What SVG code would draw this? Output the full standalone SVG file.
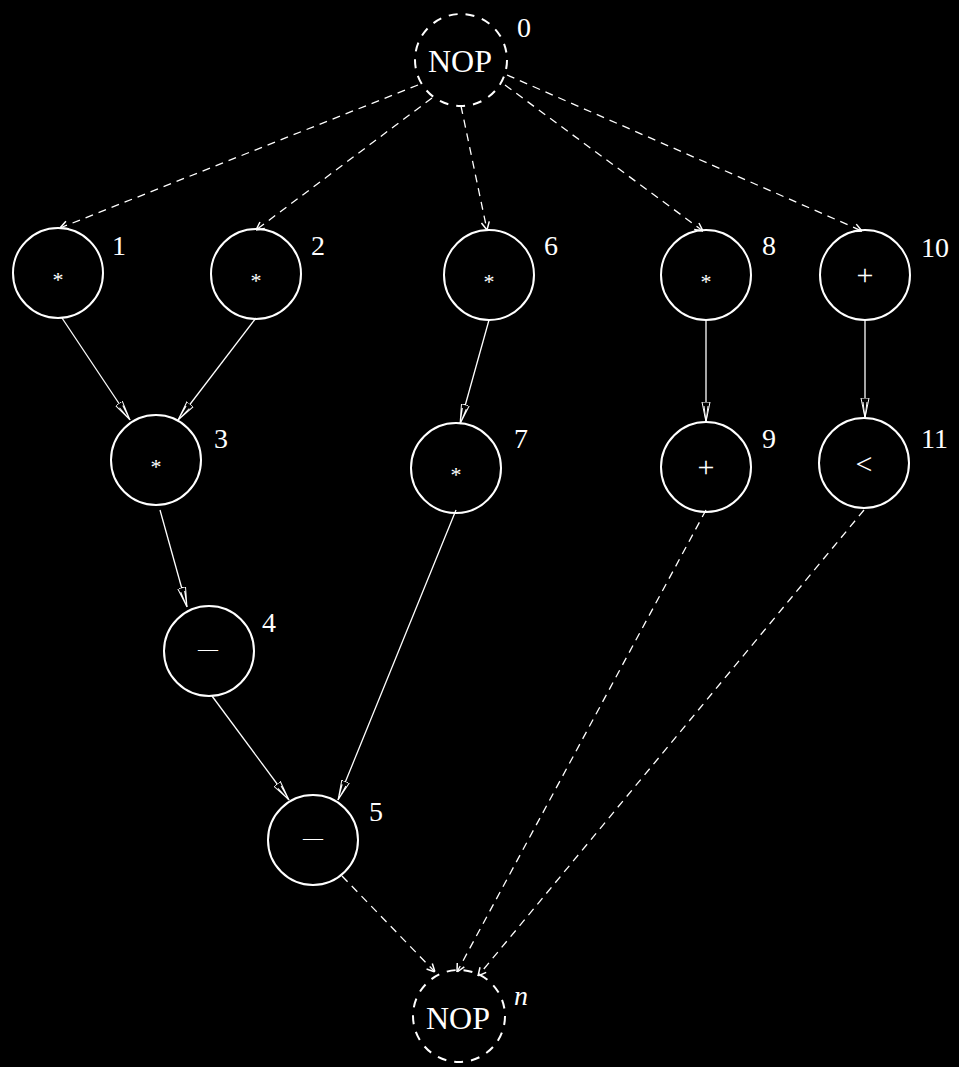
<svg xmlns="http://www.w3.org/2000/svg" width="959" height="1067" viewBox="0 0 959 1067">
<defs>
<marker id="ah" viewBox="0 0 20 10" refX="20" refY="5" markerWidth="20" markerHeight="10" markerUnits="userSpaceOnUse" orient="auto">
<path d="M0,1 L20,5 L0,9 Z M4,3 L20,5 L4,7" fill="#000" stroke="#fff" stroke-width="1"/>
</marker>
<marker id="dh" viewBox="0 0 10 10" refX="10" refY="5" markerWidth="10" markerHeight="10" markerUnits="userSpaceOnUse" orient="auto">
<path d="M2,1 L10,5 L2,9" fill="none" stroke="#fff" stroke-width="1.5"/>
</marker>
</defs>
<style>
.n{fill:none;stroke:#fff;stroke-width:2}
.d{stroke-dasharray:9,8}
.e{fill:none;stroke:#fff;stroke-width:1.3}
.de{stroke-dasharray:8,6}
.t{font-family:"Liberation Serif",serif;fill:#fff;font-size:28px}
.op{font-family:"Liberation Serif",serif;fill:#fff;font-size:22px;text-anchor:middle}
.big{font-size:30px}
.nop{font-size:32px}
</style>
<rect width="959" height="1067" fill="#000"/>
<g id="edges">
<line class="e de" x1="418" y1="85" x2="60" y2="228" marker-end="url(#dh)"/>
<line class="e de" x1="432" y1="98" x2="256" y2="230" marker-end="url(#dh)"/>
<line class="e de" x1="461" y1="106" x2="487" y2="230" marker-end="url(#dh)"/>
<line class="e de" x1="505" y1="85" x2="703" y2="231" marker-end="url(#dh)"/>
<line class="e de" x1="507" y1="75" x2="862" y2="231" marker-end="url(#dh)"/>
<line class="e" x1="62" y1="318" x2="130" y2="420" marker-end="url(#ah)"/>
<line class="e" x1="256" y1="318" x2="178" y2="420" marker-end="url(#ah)"/>
<line class="e" x1="489" y1="320" x2="460" y2="424" marker-end="url(#ah)"/>
<line class="e" x1="706" y1="320" x2="706" y2="422" marker-end="url(#ah)"/>
<line class="e" x1="865" y1="320" x2="865" y2="418" marker-end="url(#ah)"/>
<line class="e" x1="160" y1="510" x2="187" y2="607" marker-end="url(#ah)"/>
<line class="e" x1="212" y1="696" x2="289" y2="800" marker-end="url(#ah)"/>
<line class="e" x1="456" y1="510" x2="338" y2="800" marker-end="url(#ah)"/>
<line class="e de" x1="342" y1="876" x2="435" y2="972" marker-end="url(#dh)"/>
<line class="e de" x1="706" y1="510" x2="457" y2="972" marker-end="url(#dh)"/>
<line class="e de" x1="864" y1="510" x2="478" y2="976" marker-end="url(#dh)"/>
</g>
<g id="node0"><circle class="n d" cx="461" cy="60" r="46"/><text class="op nop" x="460" y="72">NOP</text><text class="t" x="517" y="37">0</text></g>
<g id="node1"><circle class="n" cx="58" cy="273" r="45"/><text class="op" x="58" y="287">*</text><text class="t" x="112" y="255">1</text></g>
<g id="node2"><circle class="n" cx="256" cy="274" r="45"/><text class="op" x="256" y="288">*</text><text class="t" x="311" y="255">2</text></g>
<g id="node6"><circle class="n" cx="489" cy="275" r="45"/><text class="op" x="489" y="289">*</text><text class="t" x="544" y="255">6</text></g>
<g id="node8"><circle class="n" cx="706" cy="275" r="45"/><text class="op" x="706" y="289">*</text><text class="t" x="762" y="255">8</text></g>
<g id="node10"><circle class="n" cx="865" cy="275" r="45"/><text class="op big" x="865" y="285">+</text><text class="t" x="921" y="257">10</text></g>
<g id="node3"><circle class="n" cx="156" cy="460" r="45"/><text class="op" x="156" y="474">*</text><text class="t" x="214" y="448">3</text></g>
<g id="node7"><circle class="n" cx="456" cy="468" r="45"/><text class="op" x="456" y="482">*</text><text class="t" x="514" y="448">7</text></g>
<g id="node9"><circle class="n" cx="706" cy="467" r="45"/><text class="op big" x="706" y="477">+</text><text class="t" x="762" y="448">9</text></g>
<g id="node11"><circle class="n" cx="864" cy="463" r="45"/><text class="op big" x="864" y="474">&lt;</text><text class="t" x="921" y="448">11</text></g>
<g id="node4"><circle class="n" cx="209" cy="651" r="45"/><text class="op" x="208" y="656" style="font-size:20px">—</text><text class="t" x="262" y="632">4</text></g>
<g id="node5"><circle class="n" cx="313" cy="840" r="45"/><text class="op" x="313" y="845" style="font-size:20px">—</text><text class="t" x="369" y="821">5</text></g>
<g id="noden"><circle class="n d" cx="459" cy="1016" r="46"/><text class="op nop" x="458" y="1029">NOP</text><text class="t" x="514" y="1005" font-style="italic">n</text></g>
</svg>
